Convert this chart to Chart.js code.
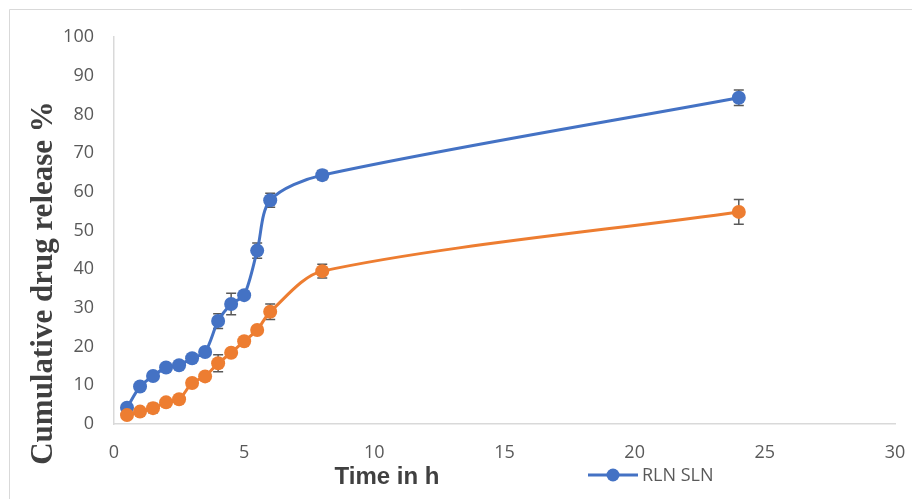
<!DOCTYPE html>
<html>
<head>
<meta charset="utf-8">
<script src="https://cdn.jsdelivr.net/npm/chart.js@4.4.1/dist/chart.umd.min.js"></script>
<style>
  html, body { margin: 0; padding: 0; background: #ffffff; }
  #wrap { position: relative; width: 912px; height: 499px; }
</style>
</head>
<body>
<div id="wrap"><canvas id="c" width="912" height="499"></canvas></div>
<script>
// ---- data ----
const timeHours = [0.5, 1, 1.5, 2, 2.5, 3, 3.5, 4, 4.5, 5, 5.5, 6, 8, 24];
const rlnSlnRelease = [4.2, 9.7, 12.4, 14.6, 15.2, 17.0, 18.6, 26.6, 31.0, 33.3, 44.8, 57.8, 64.3, 84.3];
const rlnSlnError   = [0.3, 0.5, 0.8, 1.0, 0.8, 0.6, 0.8, 1.9, 2.8, 0.9, 2.0, 1.8, 1.2, 2.0];
const secondRelease = [2.3, 3.2, 4.1, 5.6, 6.4, 10.6, 12.3, 15.7, 18.4, 21.4, 24.3, 29.0, 39.5, 54.8];
const secondError   = [0.3, 0.5, 1.2, 0.7, 0.6, 0.5, 0.6, 2.2, 0.6, 0.6, 0.6, 2.0, 1.8, 3.2];
const xTicks = [0, 5, 10, 15, 20, 25, 30];
const yTicks = [0, 10, 20, 30, 40, 50, 60, 70, 80, 90, 100];
const legendLabel = 'RLN SLN';
const xTitle = 'Time in h';
const yTitle = 'Cumulative drug release %';

const BLUE = '#4472C4';
const ORANGE = '#ED7D31';
const GREY = '#595959';

function pts(ys) { return timeHours.map((x, i) => ({ x: x, y: ys[i] })); }

const errorBars = {
  id: 'errorBars',
  beforeDatasetsDraw(chart) {
    const ctx = chart.ctx;
    const ys = chart.scales.y;
    ctx.save();
    ctx.strokeStyle = GREY;
    ctx.lineWidth = 1.5;
    chart.data.datasets.forEach((ds, di) => {
      const meta = chart.getDatasetMeta(di);
      meta.data.forEach((pt, i) => {
        const v = ds.data[i].y, e = ds.errors[i];
        const y1 = ys.getPixelForValue(v - e), y2 = ys.getPixelForValue(v + e);
        ctx.beginPath();
        ctx.moveTo(pt.x, y1); ctx.lineTo(pt.x, y2);
        ctx.moveTo(pt.x - 5, y1); ctx.lineTo(pt.x + 5, y1);
        ctx.moveTo(pt.x - 5, y2); ctx.lineTo(pt.x + 5, y2);
        ctx.stroke();
      });
    });
    ctx.restore();
  }
};

const decorations = {
  id: 'decorations',
  beforeDraw(chart) {
    const ctx = chart.ctx;
    ctx.save();
    ctx.fillStyle = '#ffffff';
    ctx.fillRect(0, 0, chart.width, chart.height);
    ctx.strokeStyle = '#d9d9d9';
    ctx.lineWidth = 1;
    ctx.beginPath();
    ctx.moveTo(9.5, chart.height);
    ctx.lineTo(9.5, 9.5);
    ctx.lineTo(chart.width, 9.5);
    ctx.stroke();
    ctx.restore();
  },
  afterDraw(chart) {
    const ctx = chart.ctx;
    ctx.save();
    // y title
    ctx.translate(44, 283);
    ctx.rotate(-Math.PI / 2);
    ctx.fillStyle = '#404040';
    ctx.font = 'bold 31px "Liberation Serif", "Times New Roman", serif';
    ctx.textAlign = 'center';
    ctx.textBaseline = 'middle';
    ctx.fillText(yTitle, 0, 0);
    ctx.restore();

    ctx.save();
    ctx.fillStyle = '#404040';
    ctx.font = 'bold 24px "Liberation Sans", Arial, sans-serif';
    ctx.textAlign = 'center';
    ctx.textBaseline = 'middle';
    ctx.fillText(xTitle, 387, 477);

    // legend
    ctx.strokeStyle = BLUE;
    ctx.lineWidth = 3;
    ctx.beginPath();
    ctx.moveTo(588, 475); ctx.lineTo(638, 475);
    ctx.stroke();
    ctx.fillStyle = BLUE;
    ctx.beginPath();
    ctx.arc(613, 475, 6.5, 0, Math.PI * 2);
    ctx.fill();
    ctx.fillStyle = GREY;
    ctx.font = '18px "Open Sans", sans-serif';
    ctx.textAlign = 'left';
    ctx.fillText(legendLabel, 642, 476);
    ctx.restore();
  }
};

new Chart(document.getElementById('c'), {
  type: 'line',
  data: {
    datasets: [
      {
        label: 'Series 2',
        data: pts(secondRelease),
        errors: secondError,
        borderColor: ORANGE,
        backgroundColor: ORANGE,
        borderWidth: 3,
        pointRadius: 7,
        pointBorderWidth: 0,
        pointBackgroundColor: ORANGE,
        tension: 0.3,
        order: 0
      },
      {
        label: legendLabel,
        data: pts(rlnSlnRelease),
        errors: rlnSlnError,
        borderColor: BLUE,
        backgroundColor: BLUE,
        borderWidth: 3,
        pointRadius: 7,
        pointBorderWidth: 0,
        pointBackgroundColor: BLUE,
        tension: 0.3,
        order: 1
      }
    ]
  },
  options: {
    responsive: false,
    animation: false,
    devicePixelRatio: 1,
    layout: { padding: { left: 0, top: 37, right: 17, bottom: 0 } },
    plugins: { legend: { display: false }, tooltip: { enabled: false } },
    scales: {
      x: {
        type: 'linear',
        min: xTicks[0],
        max: xTicks[xTicks.length - 1],
        afterBuildTicks(s) { s.ticks = xTicks.map(v => ({ value: v })); },
        afterFit(s) { s.height = 75; s.paddingRight = 0; s.paddingLeft = 0; },
        grid: { display: false, drawTicks: false, tickLength: 0 },
        border: { display: true, color: '#d9d9d9', width: 1.5 },
        ticks: { color: GREY, font: { family: '"Open Sans", sans-serif', size: 18 }, padding: 18, maxRotation: 0 }
      },
      y: {
        min: yTicks[0],
        max: yTicks[yTicks.length - 1],
        afterBuildTicks(s) { s.ticks = yTicks.map(v => ({ value: v })); },
        afterFit(s) { s.width = 114; },
        grid: { display: false, drawTicks: false, tickLength: 0 },
        border: { display: true, color: '#d9d9d9', width: 1.5 },
        ticks: { color: GREY, font: { family: '"Open Sans", sans-serif', size: 18 }, padding: 20 }
      }
    }
  },
  plugins: [decorations, errorBars]
});
</script>
</body>
</html>
